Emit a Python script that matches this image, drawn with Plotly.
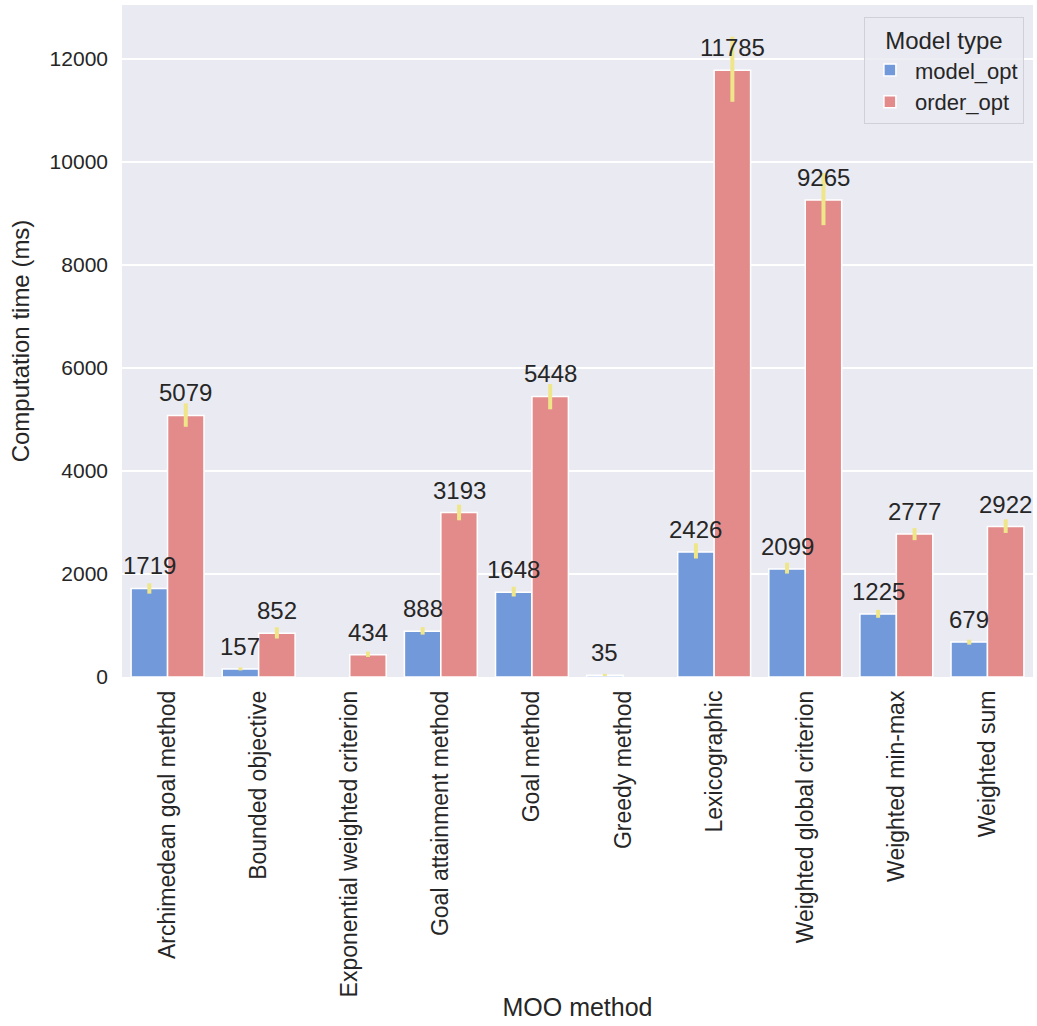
import plotly.graph_objects as go

methods = ["Archimedean goal method", "Bounded objective", "Exponential weighted criterion",
           "Goal attainment method", "Goal method", "Greedy method", "Lexicographic",
           "Weighted global criterion", "Weighted min-max", "Weighted sum"]
model_opt = [1719, 157, None, 888, 1648, 35, 2426, 2099, 1225, 679]
model_err_up = [100, 30, None, 80, 105, 25, 170, 120, 80, 45]
model_err_down = [100, 30, None, 65, 85, 15, 125, 90, 75, 50]
order_opt = [5079, 852, 434, 3193, 5448, None, 11785, 9265, 2777, 2922]
order_err_up = [235, 115, 60, 155, 240, None, 650, 520, 115, 140]
order_err_down = [220, 105, 45, 150, 250, None, 615, 490, 120, 125]
y_ticks = [0, 2000, 4000, 6000, 8000, 10000, 12000]
y_tick_labels = ["0", "2000", "4000", "6000", "8000", "10000", "12000"]

FONT = "Liberation Sans, Arial, sans-serif"
TXT = "#262626"
BLUE = "#729ADB"
RED = "#E38A8A"
ERR = "#EFE68A"

idx = list(range(len(methods)))
x_model = [i - 0.2 for i in idx]
x_order = [i + 0.2 for i in idx]

fig = go.Figure()
fig.add_trace(go.Bar(
    x=x_model, y=model_opt, width=0.4, name="model_opt",
    marker=dict(color=BLUE, line=dict(color="white", width=1.5)),
    error_y=dict(type="data", array=model_err_up, arrayminus=model_err_down,
                 color=ERR, thickness=4, width=0, symmetric=False),
))
fig.add_trace(go.Bar(
    x=x_order, y=order_opt, width=0.4, name="order_opt",
    marker=dict(color=RED, line=dict(color="white", width=1.5)),
    error_y=dict(type="data", array=order_err_up, arrayminus=order_err_down,
                 color=ERR, thickness=4, width=0, symmetric=False),
))

annotations = []
for xs, ys in ((x_model, model_opt), (x_order, order_opt)):
    for xv, yv in zip(xs, ys):
        if yv is None:
            continue
        annotations.append(dict(
            x=xv, y=yv, xref="x", yref="y", text=str(yv), showarrow=False,
            yanchor="bottom", yshift=7, font=dict(family=FONT, size=24, color=TXT),
        ))

fig.update_layout(
    width=1037, height=1026,
    margin=dict(l=122, r=4, t=5, b=349),
    paper_bgcolor="white", plot_bgcolor="#EAEAF2",
    barmode="overlay",
    font=dict(family=FONT, color=TXT, size=21),
    annotations=annotations,
    legend=dict(
        title=dict(text="Model type", side="top center", font=dict(size=24, color=TXT)),
        x=0.99, xanchor="right", y=0.982, yanchor="top",
        bgcolor="rgba(234,234,242,0.85)", bordercolor="#D0D0D8", borderwidth=1,
        font=dict(size=22, color=TXT), itemwidth=40,
    ),
    showlegend=True,
)
fig.update_xaxes(
    range=[-0.5, 9.5], tickmode="array", tickvals=idx, ticktext=methods,
    tickangle=-90, showgrid=False, zeroline=False, ticks="", ticklen=0,
    tickfont=dict(size=23, color=TXT), ticklabelstandoff=8,
    title=dict(text="MOO method", font=dict(size=25, color=TXT), standoff=2),
)
fig.update_yaxes(
    range=[0, 13050], tickmode="array", tickvals=y_ticks, ticktext=y_tick_labels,
    showgrid=True, gridcolor="white", gridwidth=1.5, zeroline=False,
    tickfont=dict(size=21, color=TXT), ticks="", ticklabelstandoff=13,
    title=dict(text="Computation time (ms)", font=dict(size=24, color=TXT), standoff=13),
)
fig.write_html("out.html")
